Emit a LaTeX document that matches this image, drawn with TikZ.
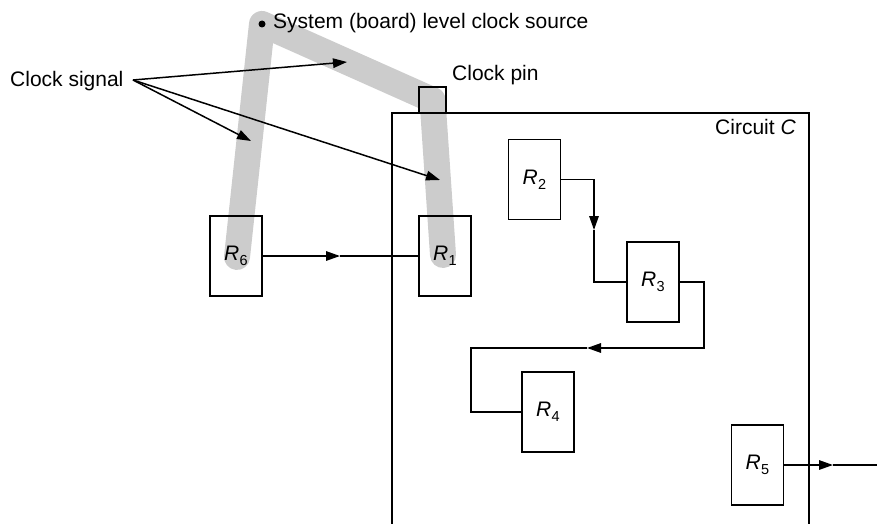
\documentclass[tikz,border=0pt]{standalone}
\usepackage{fontspec}
\setmainfont{Liberation Sans}
\usetikzlibrary{arrows.meta,backgrounds}
\newcommand{\Rsub}[1]{\textit{R}\kern0.3pt\raisebox{-5pt}{\fontsize{14.5}{14.5}\selectfont #1}}
\tikzset{
  txt/.style={font=\fontsize{21}{25}\selectfont, inner sep=0pt},
  regbox/.style={draw, line width=1.5pt, minimum width=52pt, minimum height=80pt, inner sep=0pt, font=\fontsize{21}{25}\selectfont},
  wire/.style={line width=1.5pt},
  tip/.style={wire, -{Triangle[length=14pt,width=9.5pt]}},
  band/.style={line width=26pt, color=black!20, line cap=round, line join=round},
}
\begin{document}
\begin{tikzpicture}[x=1pt,y=-1pt]
\useasboundingbox (0,0) rectangle (877,524);
% circuit boundary
\draw[wire] (392,524) -- (392,113) -- (809,113) -- (809,524);
% registers
\node[regbox] (R6) at (236,256) {\Rsub{6}};
\node[regbox] (R1) at (445,256) {\Rsub{1}};
\node[regbox] (R2) at (534.5,179.5) {\Rsub{2}};
\node[regbox] (R3) at (653,282) {\Rsub{3}};
\node[regbox] (R4) at (548,412) {\Rsub{4}};
\node[regbox] (R5) at (757.5,465) {\Rsub{5}};
% clock pin
\node[draw, line width=1.5pt, minimum width=27pt, minimum height=26pt, inner sep=0pt] (pin) at (432.5,100) {};
% clock source bullet
\node[circle, fill=black, inner sep=0pt, minimum size=7pt] (src) at (262,24) {};
% texts
\node[txt, anchor=base west] (srclbl) at (273,29) {System (board) level clock source};
\node[txt, anchor=base west] (pinlbl) at (452,81) {Clock pin};
\node[txt, anchor=base east] (circ) at (796,134) {Circuit \textit{C}};
\node[txt, anchor=base west] (cs) at (10,87) {Clock signal};
% clock band
\begin{scope}[on background layer]
\draw[band] (237,257) -- (src.center) -- (pin.center) -- (443,255);
\end{scope}
% clock signal arrows
\coordinate (cs0) at (133,80);
\coordinate (t1) at (347,62);
\coordinate (t2) at (251,141);
\coordinate (t3) at (440,180);
\draw[tip] (cs0) -- (t1);
\draw[tip] (cs0) -- (t2);
\draw[tip] (cs0) -- (t3);
% R6 -> R1
\coordinate (a61) at (340,256);
\draw[tip] (R6.east) -- (a61);
\draw[wire] (a61) -- (R1.west);
% R2 -> R3
\coordinate (a23) at (594,230);
\draw[tip] (R2.east) -| (a23);
\draw[wire] (a23) |- (R3.west);
% R3 -> R4
\coordinate (a34) at (587,348);
\draw[tip] (R3.east) -- (704,282) |- (a34);
\draw[wire] (a34) -- (471,348) |- (R4.west);
% R5 -> out
\coordinate (a5) at (833,465);
\coordinate (out5) at (877,465);
\draw[tip] (R5.east) -- (a5);
\draw[wire] (a5) -- (out5);
\end{tikzpicture}
\end{document}
